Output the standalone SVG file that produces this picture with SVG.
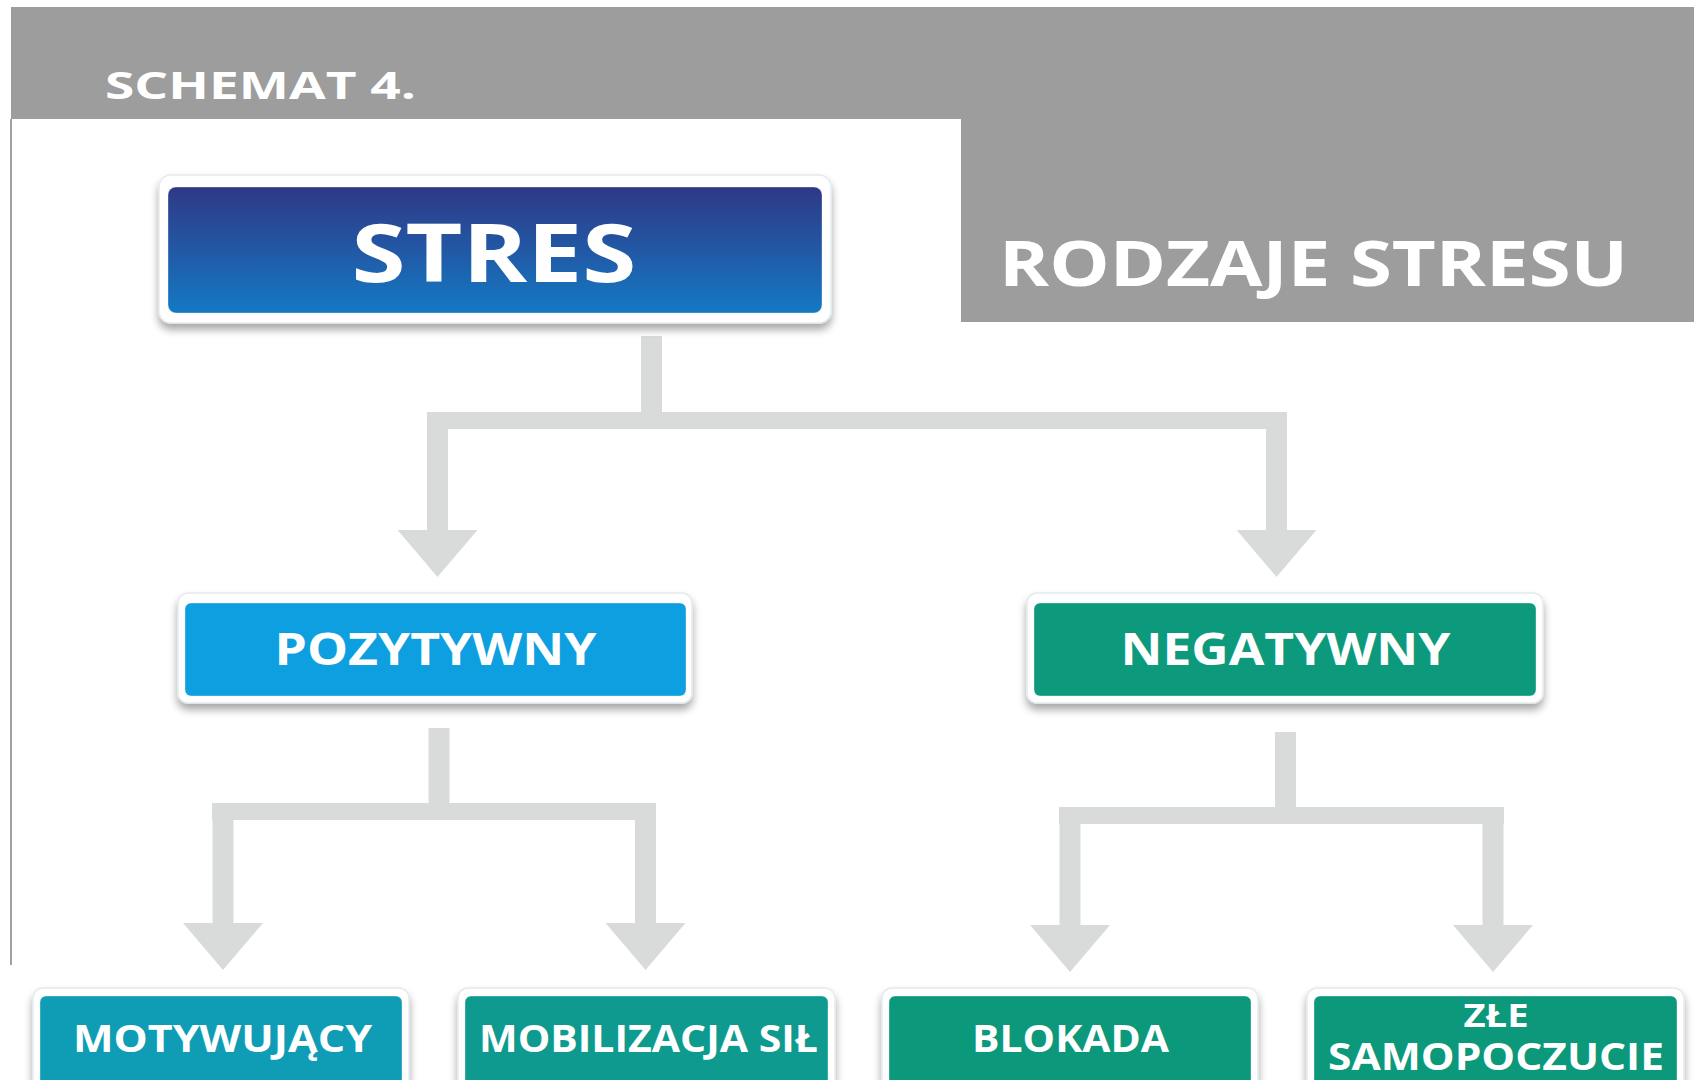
<svg xmlns="http://www.w3.org/2000/svg" width="1694" height="1080" viewBox="0 0 1694 1080">
<defs>
<linearGradient id="gStres" x1="0" y1="0" x2="0" y2="1">
<stop offset="0" stop-color="#2f3886"/>
<stop offset="1" stop-color="#1479c4"/>
</linearGradient>
<filter id="sh" x="-10%" y="-20%" width="120%" height="150%">
<feGaussianBlur in="SourceAlpha" stdDeviation="4"/>
<feOffset dx="0" dy="6" result="b"/>
<feComponentTransfer><feFuncA type="linear" slope="0.35"/></feComponentTransfer>
<feMerge><feMergeNode/><feMergeNode in="SourceGraphic"/></feMerge>
</filter>
<marker id="arr" markerUnits="userSpaceOnUse" viewBox="0 -40 47 80" markerWidth="47" markerHeight="80" refX="0" refY="0" orient="auto">
<path d="M0,-40 L0,40 L47,0 Z" fill="#d9dbdb"/>
</marker>
</defs>
<style>
.t{font-family:"Open Sans","Liberation Sans",sans-serif;font-weight:700;fill:#ffffff;}
.c{text-anchor:middle;}
.frame{fill:#ffffff;stroke:#e4eaee;stroke-width:1.5;filter:url(#sh);}
.ln{stroke:#d9dbdb;fill:none;stroke-linecap:butt;}
.v{stroke-width:21;}
.h{stroke-width:17;}
.inner{stroke:rgba(255,255,255,0.35);stroke-width:1;}
</style>
<rect width="1694" height="1080" fill="#ffffff"/>
<g id="header">
<path d="M11,7 H1694 V322 H961 V119 H11 Z" fill="#9c9d9c"/>
<line x1="11" y1="119" x2="11" y2="965" stroke="#a0a0a0" stroke-width="2"/>
<text class="t" x="105" y="99" font-size="38" textLength="311" lengthAdjust="spacingAndGlyphs">SCHEMAT 4.</text>
<text class="t" x="999" y="286" font-size="62" textLength="629" lengthAdjust="spacingAndGlyphs">RODZAJE STRESU</text>
</g>
<g id="connectors">
<line class="ln v" x1="651.5" y1="336" x2="651.5" y2="421"/>
<line class="ln h" x1="427" y1="420.5" x2="1287" y2="420.5"/>
<line class="ln v" x1="437.5" y1="412" x2="437.5" y2="530" marker-end="url(#arr)"/>
<line class="ln v" x1="1276.5" y1="412" x2="1276.5" y2="530" marker-end="url(#arr)"/>
<line class="ln v" x1="439" y1="728" x2="439" y2="812"/>
<line class="ln h" x1="212" y1="811.5" x2="656" y2="811.5"/>
<line class="ln v" x1="223" y1="803" x2="223" y2="923" marker-end="url(#arr)"/>
<line class="ln v" x1="645.5" y1="803" x2="645.5" y2="923" marker-end="url(#arr)"/>
<line class="ln v" x1="1285.5" y1="732" x2="1285.5" y2="816"/>
<line class="ln h" x1="1059" y1="815.5" x2="1504" y2="815.5"/>
<line class="ln v" x1="1070" y1="807" x2="1070" y2="925" marker-end="url(#arr)"/>
<line class="ln v" x1="1493" y1="807" x2="1493" y2="925" marker-end="url(#arr)"/>
</g>
<g id="stres">
<rect class="frame" x="159" y="175" width="672" height="148" rx="12"/>
<rect class="inner" x="168" y="187" width="654" height="126" rx="8" fill="url(#gStres)"/>
<text class="t c" x="494" y="282" font-size="81" textLength="285" lengthAdjust="spacingAndGlyphs">STRES</text>
</g>
<g id="pozytywny">
<rect class="frame" x="178" y="593" width="514" height="110" rx="10"/>
<rect class="inner" x="185" y="603" width="501" height="93" rx="6" fill="#0d9fe0"/>
<text class="t c" x="435.5" y="665" font-size="44" textLength="322" lengthAdjust="spacingAndGlyphs">POZYTYWNY</text>
</g>
<g id="negatywny">
<rect class="frame" x="1027" y="593" width="516" height="110" rx="10"/>
<rect class="inner" x="1034" y="603" width="502" height="93" rx="6" fill="#0d9a7c"/>
<text class="t c" x="1285.5" y="665" font-size="44" textLength="330" lengthAdjust="spacingAndGlyphs">NEGATYWNY</text>
</g>
<g id="motywujacy">
<rect class="frame" x="33" y="988" width="376" height="110" rx="10"/>
<rect class="inner" x="40" y="996" width="362" height="100" rx="6" fill="#0f9db6"/>
<text class="t c" x="222.5" y="1052" font-size="37" textLength="299" lengthAdjust="spacingAndGlyphs">MOTYWUJĄCY</text>
</g>
<g id="mobilizacja">
<rect class="frame" x="458" y="988" width="377" height="110" rx="10"/>
<rect class="inner" x="465" y="996" width="363" height="100" rx="6" fill="#0f9a8f"/>
<text class="t c" x="648.5" y="1052" font-size="37" textLength="339" lengthAdjust="spacingAndGlyphs">MOBILIZACJA SIŁ</text>
</g>
<g id="blokada">
<rect class="frame" x="882" y="988" width="376" height="110" rx="10"/>
<rect class="inner" x="889" y="996" width="362" height="100" rx="6" fill="#0c987a"/>
<text class="t c" x="1070.5" y="1052" font-size="37" textLength="197" lengthAdjust="spacingAndGlyphs">BLOKADA</text>
</g>
<g id="zle-samopoczucie">
<rect class="frame" x="1307" y="988" width="377" height="110" rx="10"/>
<rect class="inner" x="1314" y="996" width="363" height="100" rx="6" fill="#0c987a"/>
<text class="t c" x="1496" y="1027" font-size="32" textLength="65" lengthAdjust="spacingAndGlyphs">ZŁE</text>
<text class="t c" x="1496" y="1070" font-size="37" textLength="336" lengthAdjust="spacingAndGlyphs">SAMOPOCZUCIE</text>
</g>
</svg>
